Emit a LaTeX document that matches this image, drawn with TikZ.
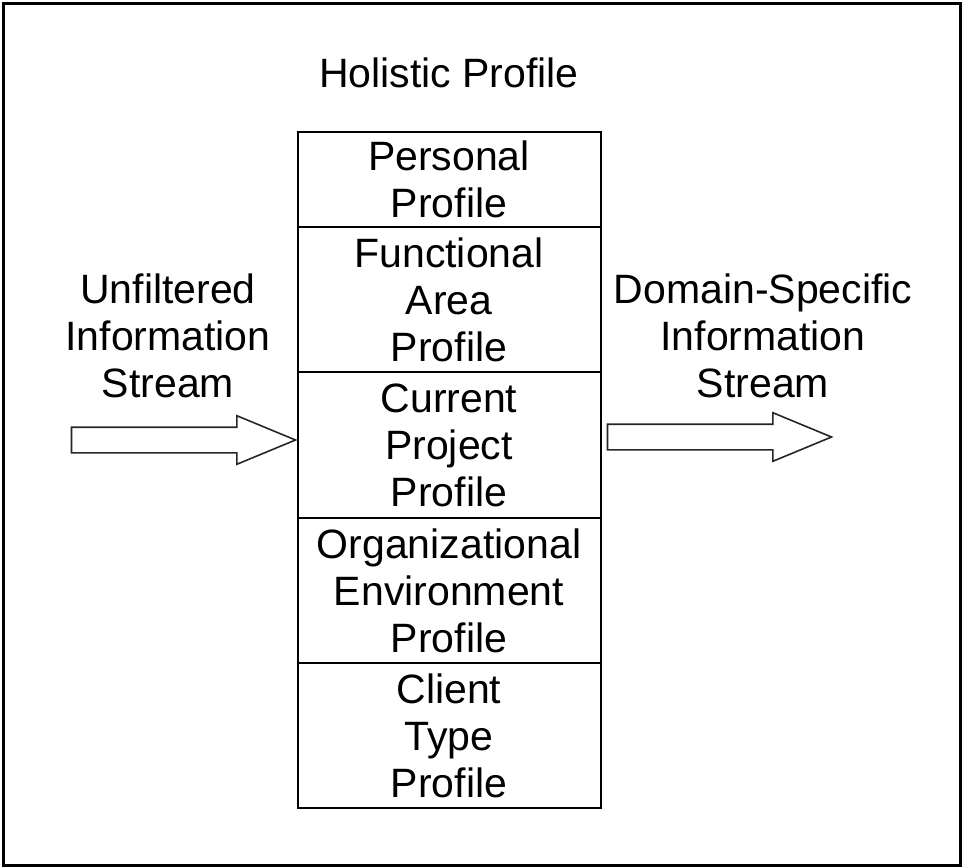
\documentclass[tikz,border=0pt]{standalone}
\usepackage{fontspec}
\setmainfont{Liberation Sans}
\usetikzlibrary{positioning, shapes.arrows}

\begin{document}
\begin{tikzpicture}[x=1pt, y=-1pt, font=\fontsize{41}{47}\selectfont,
    profilebox/.style={draw, line width=2pt, minimum width=303pt, outer sep=0pt, inner sep=0pt, align=center},
    streamtext/.style={align=center, inner sep=0pt},
    streamarrow/.style={draw=black!85, line width=1.6pt, shape=single arrow, single arrow head extend=11.5pt,
        single arrow tip angle=45, minimum height=224pt, inner xsep=0pt, inner ysep=12pt,
        text height=0pt, text depth=0pt, outer sep=0pt}]
    \useasboundingbox (0,0) rectangle (962,867);
    \draw[line width=3pt] (3.5,3.5) rectangle (960.5,865);
    % the stack of profiles
    \node[profilebox, minimum height=95pt, anchor=north] (personal) at (449,132) {Personal\\Profile};
    \node[profilebox, minimum height=145pt, below=0pt of personal] (functional) {Functional\\Area\\Profile};
    \node[profilebox, minimum height=146pt, below=0pt of functional] (project) {Current\\Project\\Profile};
    \node[profilebox, minimum height=145pt, below=0pt of project] (organization) {Organizational\\Environment\\Profile};
    \node[profilebox, minimum height=145pt, below=0pt of organization] (client) {Client\\Type\\Profile};
    \node[streamtext] (holistic) at (449,73) {Holistic Profile};
    % streams in and out
    \node[streamtext] (unfiltered) at (168,336) {Unfiltered\\Information\\Stream};
    \node[streamtext] (domain) at (763,336) {Domain-Specific\\Information\\Stream};
    \node[streamarrow, anchor=tip] (inarrow) at ([xshift=-2pt, yshift=5pt]project.west) {};
    \node[streamarrow, anchor=tail] (outarrow) at ([xshift=7pt, yshift=8pt]project.east) {};
\end{tikzpicture}
\end{document}
